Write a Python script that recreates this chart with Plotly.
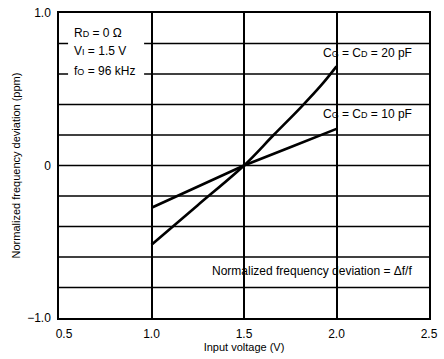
import plotly.graph_objects as go

# values
voltage_20pf = [1.0, 1.25, 1.5, 1.66, 1.81, 1.92, 2.0]
deviation_20pf = [-0.52, -0.26, 0.0, 0.20, 0.385, 0.53, 0.65]

voltage_10pf = [1.0, 1.25, 1.5, 1.75, 2.0]
deviation_10pf = [-0.277, -0.14, 0.0, 0.12, 0.24]

x_ticks = [0.5, 1.0, 1.5, 2.0, 2.5]
x_tick_text = ["\u00a0\u00a0\u00a00.5", "1.0", "1.5", "2.0", "2.5"]
y_ticks = [-1.0, 0, 1.0]
y_tick_text = ["\u22121.0", "0", "1.0"]

FONT = "Liberation Sans, Arial, sans-serif"


def sub(main, small):
    return f"{main}<span style='font-size:9px'>{small}</span>"


fig = go.Figure()

fig.add_trace(go.Scatter(x=voltage_20pf, y=deviation_20pf, mode="lines",
                         line=dict(color="black", width=2.6, shape="spline", smoothing=1.0),
                         showlegend=False))
fig.add_trace(go.Scatter(x=voltage_10pf, y=deviation_10pf, mode="lines",
                         line=dict(color="black", width=2.6),
                         showlegend=False))

# white box behind the condition text (breaks the grid lines)
fig.add_shape(type="rect", xref="x", yref="y", x0=0.549, x1=0.96, y0=0.56, y1=0.9,
              fillcolor="white", line_width=0, layer="above")

cond_lines = [sub("R", "D") + " = 0 \u03a9", sub("V", "I") + " = 1.5 V", sub("f", "O") + " = 96 kHz"]
cond_y = [0.87, 0.75, 0.62]
for txt, yy in zip(cond_lines, cond_y):
    fig.add_annotation(x=0.57, y=yy, text=txt, showarrow=False, xanchor="left",
                       font=dict(size=12, color="black", family=FONT))

fig.add_annotation(x=2.42, y=0.74, text=sub("C", "G") + " = " + sub("C", "D") + " = 20 pF",
                   showarrow=False, xanchor="right", font=dict(size=12, color="black", family=FONT))
fig.add_annotation(x=2.42, y=0.34, text=sub("C", "G") + " = " + sub("C", "D") + " = 10 pF",
                   showarrow=False, xanchor="right", font=dict(size=12, color="black", family=FONT))
fig.add_annotation(x=2.42, y=-0.69, text="Normalized frequency deviation = \u0394f/f",
                   showarrow=False, xanchor="right", font=dict(size=12, color="black", family=FONT))

fig.update_xaxes(range=[0.5, 2.5], tickvals=x_ticks, ticktext=x_tick_text,
                 showgrid=True, gridcolor="black", gridwidth=1.5,
                 showline=True, linecolor="black", linewidth=1.5, mirror=True,
                 ticks="", zeroline=False, automargin=False, ticklabelstandoff=4,
                 title=dict(text="Input voltage (V)", font=dict(size=11, family=FONT, color="black"),
                            standoff=3),
                 tickfont=dict(size=12, family=FONT, color="black"))
fig.update_yaxes(range=[-1.0, 1.0], tickvals=y_ticks, ticktext=y_tick_text,
                 showgrid=False, showline=True, linecolor="black", linewidth=1.5, mirror=True,
                 ticks="", zeroline=False, automargin=False, ticklabelstandoff=4,
                 title=dict(text="Normalized frequency deviation (ppm)",
                            font=dict(size=11, family=FONT, color="black"), standoff=4),
                 tickfont=dict(size=12, family=FONT, color="black"))

# horizontal grid every 0.2
for i in range(1, 10):
    yv = -1.0 + 0.2 * i
    fig.add_hline(y=yv, line=dict(color="black", width=1.5), layer="below")

fig.update_layout(width=444, height=359,
                  margin=dict(l=59, r=15, t=13, b=41),
                  paper_bgcolor="white", plot_bgcolor="white",
                  font=dict(family=FONT, color="black"))

# drop the browser's default body margin so the figure sits at the corner
fig.write_html("out.html", config={"displayModeBar": False},
               post_script="document.body.style.margin='0';")
